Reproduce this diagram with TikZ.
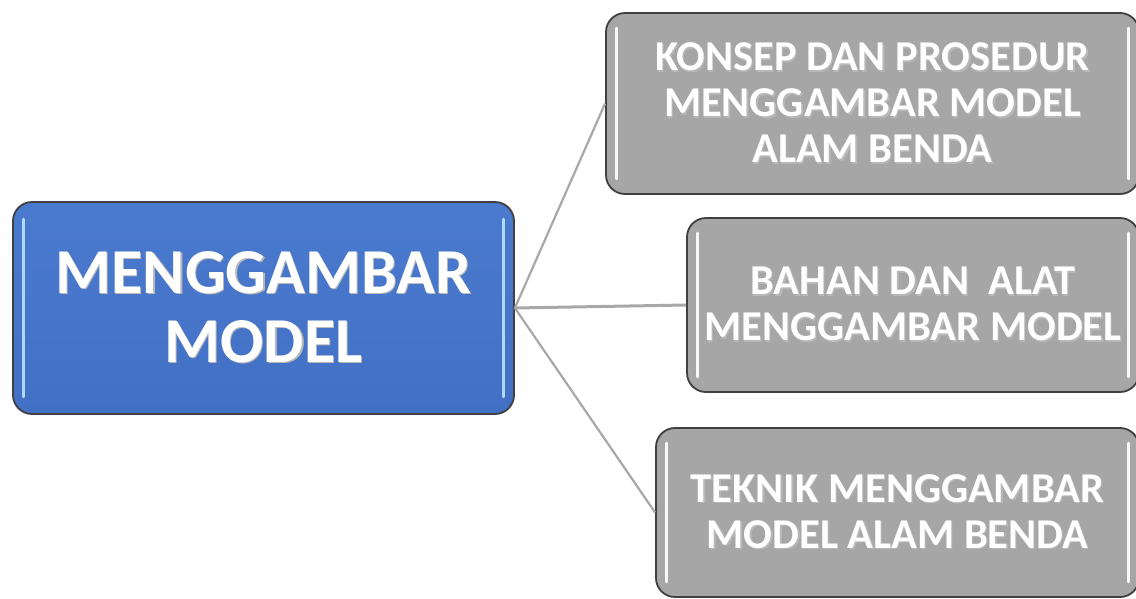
\documentclass[tikz,border=0pt]{standalone}
\usepackage{fontspec}
\setmainfont{Carlito}
\usepackage{xcolor}
\definecolor{rootblue}{RGB}{66,112,196}
\definecolor{rootblueup}{RGB}{74,122,206}
\definecolor{leafgray}{RGB}{166,166,166}
\definecolor{rimgray}{RGB}{64,64,64}
\definecolor{linkgray}{RGB}{168,168,168}
\definecolor{glossblue}{RGB}{175,215,248}
\usetikzlibrary{positioning}
% white caption with a soft drop shadow
\newcommand{\shtxt}[1]{\makebox[0pt][l]{\raisebox{-1.3pt}{\hspace{1.3pt}\color{black!28}#1}}#1}

\begin{document}
\begin{tikzpicture}[x=1pt, y=-1pt,
  mapbox/.style={rounded corners=19pt, draw=rimgray, line width=1.8pt, inner sep=0pt,
    align=center, text=white, font=\bfseries},
  rootbox/.style={mapbox, top color=rootblueup, bottom color=rootblue,
    font=\bfseries\fontsize{64}{67}\selectfont},
  leafbox/.style={mapbox, fill=leafgray, font=\bfseries\fontsize{42.5}{46}\selectfont},
  link/.style={draw=linkgray, line width=2.2pt},
  gloss/.style={line width=3pt, line cap=round}]
\useasboundingbox (0,0) rectangle (1136,598);
% Central topic
\node[rootbox, minimum width=501pt, minimum height=212pt] (root) at (263.5,308)
  {\shtxt{MENGGAMBAR}\\[2pt]\shtxt{MODEL}};
% Sub topics
\foreach \nm/\cx/\cy/\bw/\bh/\txt in {
  konsep/872.5/103.5/533/181/{\shtxt{KONSEP DAN PROSEDUR}\\\shtxt{MENGGAMBAR MODEL}\\\shtxt{ALAM BENDA}},
  bahan/913/305/452/174/{\shtxt{BAHAN DAN\ \ ALAT}\\\shtxt{MENGGAMBAR MODEL}},
  teknik/897.5/512.5/483/169/{\shtxt{TEKNIK MENGGAMBAR}\\\shtxt{MODEL ALAM BENDA}}} {
  \node[leafbox, minimum width=\bw pt, minimum height=\bh pt] (\nm) at (\cx,\cy) {\txt};
}
% Connectors
\foreach \nm in {konsep, teknik} {
  \draw[link] (root.east) -- (\nm.west);
}
\draw[link, line width=3pt] (root.east) -- (bahan.west);
% Glossy highlights
\draw[gloss, glossblue] ([xshift=11pt, yshift=-18pt]root.north west) -- ([xshift=11pt, yshift=18pt]root.south west);
\draw[gloss, glossblue] ([xshift=-11pt, yshift=-18pt]root.north east) -- ([xshift=-11pt, yshift=18pt]root.south east);
\foreach \nm in {konsep, bahan, teknik} {
  \draw[gloss, white!92!leafgray] ([xshift=11pt, yshift=-16pt]\nm.north west) -- ([xshift=11pt, yshift=16pt]\nm.south west);
  \draw[gloss, white!92!leafgray] ([xshift=-11pt, yshift=-16pt]\nm.north east) -- ([xshift=-11pt, yshift=16pt]\nm.south east);
}
\end{tikzpicture}
\end{document}
